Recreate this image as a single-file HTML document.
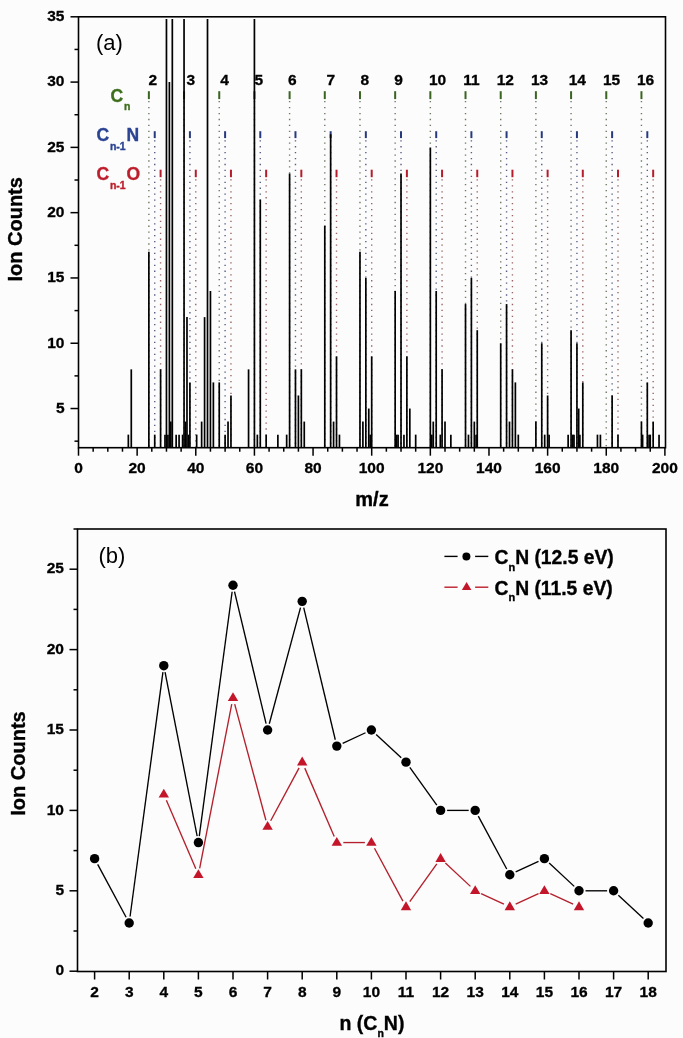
<!DOCTYPE html>
<html><head><meta charset="utf-8"><style>
html,body{margin:0;padding:0;background:#fcfcfc;}
svg{display:block;will-change:transform;}
text{font-family:"Liberation Sans", sans-serif;}
.tk{font-size:15.5px;font-weight:bold;fill:#000;stroke:#000;stroke-width:0.3px;}
.ttl{font-size:20px;font-weight:bold;fill:#000;stroke:#000;stroke-width:0.35px;}
.lab{font-size:22px;fill:#000;}
.ser{font-size:17.5px;font-weight:bold;stroke-width:0.35px;}
.sub{font-size:11px;}
.ssub{font-size:10.5px;}
.leg{font-size:19.3px;}
</style></head><body>
<svg width="683" height="1038" viewBox="0 0 683 1038">
<rect width="683" height="1038" fill="#fcfcfc"/>
<line x1="148.87" y1="91.2" x2="148.87" y2="99.10000000000001" stroke="#3b6321" stroke-width="2.0"/>
<line x1="148.87" y1="101.05" x2="148.87" y2="446.7" stroke="#6c7864" stroke-width="1.4" stroke-dasharray="1.3 4.63"/>
<line x1="154.73" y1="131.2" x2="154.73" y2="138.1" stroke="#283a7e" stroke-width="2.0"/>
<line x1="154.73" y1="140.15" x2="154.73" y2="446.7" stroke="#585e84" stroke-width="1.4" stroke-dasharray="1.3 4.63"/>
<line x1="160.60" y1="169.7" x2="160.60" y2="177.2" stroke="#b41d2c" stroke-width="2.0"/>
<line x1="160.60" y1="179.3" x2="160.60" y2="446.7" stroke="#9a6466" stroke-width="1.4" stroke-dasharray="1.3 4.63"/>
<line x1="184.05" y1="91.2" x2="184.05" y2="99.10000000000001" stroke="#3b6321" stroke-width="2.0"/>
<line x1="184.05" y1="101.05" x2="184.05" y2="446.7" stroke="#6c7864" stroke-width="1.4" stroke-dasharray="1.3 4.63"/>
<line x1="189.92" y1="131.2" x2="189.92" y2="138.1" stroke="#283a7e" stroke-width="2.0"/>
<line x1="189.92" y1="140.15" x2="189.92" y2="446.7" stroke="#585e84" stroke-width="1.4" stroke-dasharray="1.3 4.63"/>
<line x1="195.78" y1="169.7" x2="195.78" y2="177.2" stroke="#b41d2c" stroke-width="2.0"/>
<line x1="195.78" y1="179.3" x2="195.78" y2="446.7" stroke="#9a6466" stroke-width="1.4" stroke-dasharray="1.3 4.63"/>
<line x1="219.24" y1="91.2" x2="219.24" y2="99.10000000000001" stroke="#3b6321" stroke-width="2.0"/>
<line x1="219.24" y1="101.05" x2="219.24" y2="446.7" stroke="#6c7864" stroke-width="1.4" stroke-dasharray="1.3 4.63"/>
<line x1="225.10" y1="131.2" x2="225.10" y2="138.1" stroke="#283a7e" stroke-width="2.0"/>
<line x1="225.10" y1="140.15" x2="225.10" y2="446.7" stroke="#585e84" stroke-width="1.4" stroke-dasharray="1.3 4.63"/>
<line x1="230.96" y1="169.7" x2="230.96" y2="177.2" stroke="#b41d2c" stroke-width="2.0"/>
<line x1="230.96" y1="179.3" x2="230.96" y2="446.7" stroke="#9a6466" stroke-width="1.4" stroke-dasharray="1.3 4.63"/>
<line x1="254.42" y1="91.2" x2="254.42" y2="99.10000000000001" stroke="#3b6321" stroke-width="2.0"/>
<line x1="254.42" y1="101.05" x2="254.42" y2="446.7" stroke="#6c7864" stroke-width="1.4" stroke-dasharray="1.3 4.63"/>
<line x1="260.28" y1="131.2" x2="260.28" y2="138.1" stroke="#283a7e" stroke-width="2.0"/>
<line x1="260.28" y1="140.15" x2="260.28" y2="446.7" stroke="#585e84" stroke-width="1.4" stroke-dasharray="1.3 4.63"/>
<line x1="266.15" y1="169.7" x2="266.15" y2="177.2" stroke="#b41d2c" stroke-width="2.0"/>
<line x1="266.15" y1="179.3" x2="266.15" y2="446.7" stroke="#9a6466" stroke-width="1.4" stroke-dasharray="1.3 4.63"/>
<line x1="289.60" y1="91.2" x2="289.60" y2="99.10000000000001" stroke="#3b6321" stroke-width="2.0"/>
<line x1="289.60" y1="101.05" x2="289.60" y2="446.7" stroke="#6c7864" stroke-width="1.4" stroke-dasharray="1.3 4.63"/>
<line x1="295.47" y1="131.2" x2="295.47" y2="138.1" stroke="#283a7e" stroke-width="2.0"/>
<line x1="295.47" y1="140.15" x2="295.47" y2="446.7" stroke="#585e84" stroke-width="1.4" stroke-dasharray="1.3 4.63"/>
<line x1="301.33" y1="169.7" x2="301.33" y2="177.2" stroke="#b41d2c" stroke-width="2.0"/>
<line x1="301.33" y1="179.3" x2="301.33" y2="446.7" stroke="#9a6466" stroke-width="1.4" stroke-dasharray="1.3 4.63"/>
<line x1="324.79" y1="91.2" x2="324.79" y2="99.10000000000001" stroke="#3b6321" stroke-width="2.0"/>
<line x1="324.79" y1="101.05" x2="324.79" y2="446.7" stroke="#6c7864" stroke-width="1.4" stroke-dasharray="1.3 4.63"/>
<line x1="330.65" y1="131.2" x2="330.65" y2="138.1" stroke="#283a7e" stroke-width="2.0"/>
<line x1="330.65" y1="140.15" x2="330.65" y2="446.7" stroke="#585e84" stroke-width="1.4" stroke-dasharray="1.3 4.63"/>
<line x1="336.52" y1="169.7" x2="336.52" y2="177.2" stroke="#b41d2c" stroke-width="2.0"/>
<line x1="336.52" y1="179.3" x2="336.52" y2="446.7" stroke="#9a6466" stroke-width="1.4" stroke-dasharray="1.3 4.63"/>
<line x1="359.97" y1="91.2" x2="359.97" y2="99.10000000000001" stroke="#3b6321" stroke-width="2.0"/>
<line x1="359.97" y1="101.05" x2="359.97" y2="446.7" stroke="#6c7864" stroke-width="1.4" stroke-dasharray="1.3 4.63"/>
<line x1="365.84" y1="131.2" x2="365.84" y2="138.1" stroke="#283a7e" stroke-width="2.0"/>
<line x1="365.84" y1="140.15" x2="365.84" y2="446.7" stroke="#585e84" stroke-width="1.4" stroke-dasharray="1.3 4.63"/>
<line x1="371.70" y1="169.7" x2="371.70" y2="177.2" stroke="#b41d2c" stroke-width="2.0"/>
<line x1="371.70" y1="179.3" x2="371.70" y2="446.7" stroke="#9a6466" stroke-width="1.4" stroke-dasharray="1.3 4.63"/>
<line x1="395.16" y1="91.2" x2="395.16" y2="99.10000000000001" stroke="#3b6321" stroke-width="2.0"/>
<line x1="395.16" y1="101.05" x2="395.16" y2="446.7" stroke="#6c7864" stroke-width="1.4" stroke-dasharray="1.3 4.63"/>
<line x1="401.02" y1="131.2" x2="401.02" y2="138.1" stroke="#283a7e" stroke-width="2.0"/>
<line x1="401.02" y1="140.15" x2="401.02" y2="446.7" stroke="#585e84" stroke-width="1.4" stroke-dasharray="1.3 4.63"/>
<line x1="406.88" y1="169.7" x2="406.88" y2="177.2" stroke="#b41d2c" stroke-width="2.0"/>
<line x1="406.88" y1="179.3" x2="406.88" y2="446.7" stroke="#9a6466" stroke-width="1.4" stroke-dasharray="1.3 4.63"/>
<line x1="430.34" y1="91.2" x2="430.34" y2="99.10000000000001" stroke="#3b6321" stroke-width="2.0"/>
<line x1="430.34" y1="101.05" x2="430.34" y2="446.7" stroke="#6c7864" stroke-width="1.4" stroke-dasharray="1.3 4.63"/>
<line x1="436.20" y1="131.2" x2="436.20" y2="138.1" stroke="#283a7e" stroke-width="2.0"/>
<line x1="436.20" y1="140.15" x2="436.20" y2="446.7" stroke="#585e84" stroke-width="1.4" stroke-dasharray="1.3 4.63"/>
<line x1="442.07" y1="169.7" x2="442.07" y2="177.2" stroke="#b41d2c" stroke-width="2.0"/>
<line x1="442.07" y1="179.3" x2="442.07" y2="446.7" stroke="#9a6466" stroke-width="1.4" stroke-dasharray="1.3 4.63"/>
<line x1="465.52" y1="91.2" x2="465.52" y2="99.10000000000001" stroke="#3b6321" stroke-width="2.0"/>
<line x1="465.52" y1="101.05" x2="465.52" y2="446.7" stroke="#6c7864" stroke-width="1.4" stroke-dasharray="1.3 4.63"/>
<line x1="471.39" y1="131.2" x2="471.39" y2="138.1" stroke="#283a7e" stroke-width="2.0"/>
<line x1="471.39" y1="140.15" x2="471.39" y2="446.7" stroke="#585e84" stroke-width="1.4" stroke-dasharray="1.3 4.63"/>
<line x1="477.25" y1="169.7" x2="477.25" y2="177.2" stroke="#b41d2c" stroke-width="2.0"/>
<line x1="477.25" y1="179.3" x2="477.25" y2="446.7" stroke="#9a6466" stroke-width="1.4" stroke-dasharray="1.3 4.63"/>
<line x1="500.71" y1="91.2" x2="500.71" y2="99.10000000000001" stroke="#3b6321" stroke-width="2.0"/>
<line x1="500.71" y1="101.05" x2="500.71" y2="446.7" stroke="#6c7864" stroke-width="1.4" stroke-dasharray="1.3 4.63"/>
<line x1="506.57" y1="131.2" x2="506.57" y2="138.1" stroke="#283a7e" stroke-width="2.0"/>
<line x1="506.57" y1="140.15" x2="506.57" y2="446.7" stroke="#585e84" stroke-width="1.4" stroke-dasharray="1.3 4.63"/>
<line x1="512.44" y1="169.7" x2="512.44" y2="177.2" stroke="#b41d2c" stroke-width="2.0"/>
<line x1="512.44" y1="179.3" x2="512.44" y2="446.7" stroke="#9a6466" stroke-width="1.4" stroke-dasharray="1.3 4.63"/>
<line x1="535.89" y1="91.2" x2="535.89" y2="99.10000000000001" stroke="#3b6321" stroke-width="2.0"/>
<line x1="535.89" y1="101.05" x2="535.89" y2="446.7" stroke="#6c7864" stroke-width="1.4" stroke-dasharray="1.3 4.63"/>
<line x1="541.76" y1="131.2" x2="541.76" y2="138.1" stroke="#283a7e" stroke-width="2.0"/>
<line x1="541.76" y1="140.15" x2="541.76" y2="446.7" stroke="#585e84" stroke-width="1.4" stroke-dasharray="1.3 4.63"/>
<line x1="547.62" y1="169.7" x2="547.62" y2="177.2" stroke="#b41d2c" stroke-width="2.0"/>
<line x1="547.62" y1="179.3" x2="547.62" y2="446.7" stroke="#9a6466" stroke-width="1.4" stroke-dasharray="1.3 4.63"/>
<line x1="571.08" y1="91.2" x2="571.08" y2="99.10000000000001" stroke="#3b6321" stroke-width="2.0"/>
<line x1="571.08" y1="101.05" x2="571.08" y2="446.7" stroke="#6c7864" stroke-width="1.4" stroke-dasharray="1.3 4.63"/>
<line x1="576.94" y1="131.2" x2="576.94" y2="138.1" stroke="#283a7e" stroke-width="2.0"/>
<line x1="576.94" y1="140.15" x2="576.94" y2="446.7" stroke="#585e84" stroke-width="1.4" stroke-dasharray="1.3 4.63"/>
<line x1="582.80" y1="169.7" x2="582.80" y2="177.2" stroke="#b41d2c" stroke-width="2.0"/>
<line x1="582.80" y1="179.3" x2="582.80" y2="446.7" stroke="#9a6466" stroke-width="1.4" stroke-dasharray="1.3 4.63"/>
<line x1="606.26" y1="91.2" x2="606.26" y2="99.10000000000001" stroke="#3b6321" stroke-width="2.0"/>
<line x1="606.26" y1="101.05" x2="606.26" y2="446.7" stroke="#6c7864" stroke-width="1.4" stroke-dasharray="1.3 4.63"/>
<line x1="612.12" y1="131.2" x2="612.12" y2="138.1" stroke="#283a7e" stroke-width="2.0"/>
<line x1="612.12" y1="140.15" x2="612.12" y2="446.7" stroke="#585e84" stroke-width="1.4" stroke-dasharray="1.3 4.63"/>
<line x1="617.99" y1="169.7" x2="617.99" y2="177.2" stroke="#b41d2c" stroke-width="2.0"/>
<line x1="617.99" y1="179.3" x2="617.99" y2="446.7" stroke="#9a6466" stroke-width="1.4" stroke-dasharray="1.3 4.63"/>
<line x1="641.44" y1="91.2" x2="641.44" y2="99.10000000000001" stroke="#3b6321" stroke-width="2.0"/>
<line x1="641.44" y1="101.05" x2="641.44" y2="446.7" stroke="#6c7864" stroke-width="1.4" stroke-dasharray="1.3 4.63"/>
<line x1="647.31" y1="131.2" x2="647.31" y2="138.1" stroke="#283a7e" stroke-width="2.0"/>
<line x1="647.31" y1="140.15" x2="647.31" y2="446.7" stroke="#585e84" stroke-width="1.4" stroke-dasharray="1.3 4.63"/>
<line x1="653.17" y1="169.7" x2="653.17" y2="177.2" stroke="#b41d2c" stroke-width="2.0"/>
<line x1="653.17" y1="179.3" x2="653.17" y2="446.7" stroke="#9a6466" stroke-width="1.4" stroke-dasharray="1.3 4.63"/>
<line x1="128.34" y1="434.64" x2="128.34" y2="447.7" stroke="#000" stroke-width="1.7"/>
<line x1="131.28" y1="369.35" x2="131.28" y2="447.7" stroke="#000" stroke-width="1.7"/>
<line x1="148.87" y1="251.84" x2="148.87" y2="447.7" stroke="#000" stroke-width="1.7"/>
<line x1="154.73" y1="434.64" x2="154.73" y2="447.7" stroke="#000" stroke-width="1.7"/>
<line x1="160.60" y1="369.35" x2="160.60" y2="447.7" stroke="#000" stroke-width="1.7"/>
<line x1="166.46" y1="19.00" x2="166.46" y2="447.7" stroke="#000" stroke-width="1.7"/>
<line x1="169.39" y1="82.09" x2="169.39" y2="447.7" stroke="#000" stroke-width="1.7"/>
<line x1="172.32" y1="19.00" x2="172.32" y2="447.7" stroke="#000" stroke-width="1.7"/>
<line x1="164.99" y1="434.64" x2="164.99" y2="447.7" stroke="#000" stroke-width="1.7"/>
<line x1="167.93" y1="434.64" x2="167.93" y2="447.7" stroke="#000" stroke-width="1.7"/>
<line x1="170.86" y1="421.58" x2="170.86" y2="447.7" stroke="#000" stroke-width="1.7"/>
<line x1="176.14" y1="434.64" x2="176.14" y2="447.7" stroke="#000" stroke-width="1.7"/>
<line x1="179.07" y1="434.64" x2="179.07" y2="447.7" stroke="#000" stroke-width="1.7"/>
<line x1="184.05" y1="19.00" x2="184.05" y2="447.7" stroke="#000" stroke-width="1.7"/>
<line x1="186.98" y1="317.12" x2="186.98" y2="447.7" stroke="#000" stroke-width="1.7"/>
<line x1="189.92" y1="382.41" x2="189.92" y2="447.7" stroke="#000" stroke-width="1.7"/>
<line x1="182.59" y1="434.64" x2="182.59" y2="447.7" stroke="#000" stroke-width="1.7"/>
<line x1="185.52" y1="421.58" x2="185.52" y2="447.7" stroke="#000" stroke-width="1.7"/>
<line x1="188.45" y1="434.64" x2="188.45" y2="447.7" stroke="#000" stroke-width="1.7"/>
<line x1="196.66" y1="434.64" x2="196.66" y2="447.7" stroke="#000" stroke-width="1.7"/>
<line x1="201.64" y1="421.58" x2="201.64" y2="447.7" stroke="#000" stroke-width="1.7"/>
<line x1="204.58" y1="317.12" x2="204.58" y2="447.7" stroke="#000" stroke-width="1.7"/>
<line x1="207.51" y1="19.00" x2="207.51" y2="447.7" stroke="#000" stroke-width="1.7"/>
<line x1="210.44" y1="291.01" x2="210.44" y2="447.7" stroke="#000" stroke-width="1.7"/>
<line x1="213.37" y1="382.41" x2="213.37" y2="447.7" stroke="#000" stroke-width="1.7"/>
<line x1="219.24" y1="382.41" x2="219.24" y2="447.7" stroke="#000" stroke-width="1.7"/>
<line x1="225.10" y1="434.64" x2="225.10" y2="447.7" stroke="#000" stroke-width="1.7"/>
<line x1="228.03" y1="421.58" x2="228.03" y2="447.7" stroke="#000" stroke-width="1.7"/>
<line x1="230.96" y1="395.47" x2="230.96" y2="447.7" stroke="#000" stroke-width="1.7"/>
<line x1="248.56" y1="369.35" x2="248.56" y2="447.7" stroke="#000" stroke-width="1.7"/>
<line x1="254.42" y1="19.00" x2="254.42" y2="447.7" stroke="#000" stroke-width="1.7"/>
<line x1="257.35" y1="434.64" x2="257.35" y2="447.7" stroke="#000" stroke-width="1.7"/>
<line x1="260.28" y1="199.61" x2="260.28" y2="447.7" stroke="#000" stroke-width="1.7"/>
<line x1="266.15" y1="434.64" x2="266.15" y2="447.7" stroke="#000" stroke-width="1.7"/>
<line x1="277.88" y1="434.64" x2="277.88" y2="447.7" stroke="#000" stroke-width="1.7"/>
<line x1="286.67" y1="434.64" x2="286.67" y2="447.7" stroke="#000" stroke-width="1.7"/>
<line x1="289.60" y1="173.49" x2="289.60" y2="447.7" stroke="#000" stroke-width="1.7"/>
<line x1="295.47" y1="369.35" x2="295.47" y2="447.7" stroke="#000" stroke-width="1.7"/>
<line x1="298.40" y1="395.47" x2="298.40" y2="447.7" stroke="#000" stroke-width="1.7"/>
<line x1="301.33" y1="369.35" x2="301.33" y2="447.7" stroke="#000" stroke-width="1.7"/>
<line x1="304.26" y1="421.58" x2="304.26" y2="447.7" stroke="#000" stroke-width="1.7"/>
<line x1="324.79" y1="225.72" x2="324.79" y2="447.7" stroke="#000" stroke-width="1.7"/>
<line x1="330.65" y1="134.32" x2="330.65" y2="447.7" stroke="#000" stroke-width="1.7"/>
<line x1="333.58" y1="421.58" x2="333.58" y2="447.7" stroke="#000" stroke-width="1.7"/>
<line x1="336.52" y1="356.30" x2="336.52" y2="447.7" stroke="#000" stroke-width="1.7"/>
<line x1="339.45" y1="434.64" x2="339.45" y2="447.7" stroke="#000" stroke-width="1.7"/>
<line x1="359.97" y1="251.84" x2="359.97" y2="447.7" stroke="#000" stroke-width="1.7"/>
<line x1="362.90" y1="421.58" x2="362.90" y2="447.7" stroke="#000" stroke-width="1.7"/>
<line x1="365.84" y1="277.95" x2="365.84" y2="447.7" stroke="#000" stroke-width="1.7"/>
<line x1="368.77" y1="408.53" x2="368.77" y2="447.7" stroke="#000" stroke-width="1.7"/>
<line x1="370.23" y1="434.64" x2="370.23" y2="447.7" stroke="#000" stroke-width="1.7"/>
<line x1="371.70" y1="356.30" x2="371.70" y2="447.7" stroke="#000" stroke-width="1.7"/>
<line x1="395.16" y1="291.01" x2="395.16" y2="447.7" stroke="#000" stroke-width="1.7"/>
<line x1="396.62" y1="434.64" x2="396.62" y2="447.7" stroke="#000" stroke-width="1.7"/>
<line x1="398.09" y1="434.64" x2="398.09" y2="447.7" stroke="#000" stroke-width="1.7"/>
<line x1="401.02" y1="173.49" x2="401.02" y2="447.7" stroke="#000" stroke-width="1.7"/>
<line x1="403.95" y1="434.64" x2="403.95" y2="447.7" stroke="#000" stroke-width="1.7"/>
<line x1="406.88" y1="356.30" x2="406.88" y2="447.7" stroke="#000" stroke-width="1.7"/>
<line x1="409.82" y1="408.53" x2="409.82" y2="447.7" stroke="#000" stroke-width="1.7"/>
<line x1="415.68" y1="434.64" x2="415.68" y2="447.7" stroke="#000" stroke-width="1.7"/>
<line x1="430.34" y1="147.38" x2="430.34" y2="447.7" stroke="#000" stroke-width="1.7"/>
<line x1="431.81" y1="434.64" x2="431.81" y2="447.7" stroke="#000" stroke-width="1.7"/>
<line x1="433.27" y1="421.58" x2="433.27" y2="447.7" stroke="#000" stroke-width="1.7"/>
<line x1="436.20" y1="291.01" x2="436.20" y2="447.7" stroke="#000" stroke-width="1.7"/>
<line x1="440.31" y1="434.64" x2="440.31" y2="447.7" stroke="#000" stroke-width="1.7"/>
<line x1="442.07" y1="369.35" x2="442.07" y2="447.7" stroke="#000" stroke-width="1.7"/>
<line x1="445.00" y1="421.58" x2="445.00" y2="447.7" stroke="#000" stroke-width="1.7"/>
<line x1="450.86" y1="434.64" x2="450.86" y2="447.7" stroke="#000" stroke-width="1.7"/>
<line x1="465.52" y1="304.07" x2="465.52" y2="447.7" stroke="#000" stroke-width="1.7"/>
<line x1="468.46" y1="434.64" x2="468.46" y2="447.7" stroke="#000" stroke-width="1.7"/>
<line x1="471.39" y1="277.95" x2="471.39" y2="447.7" stroke="#000" stroke-width="1.7"/>
<line x1="474.32" y1="421.58" x2="474.32" y2="447.7" stroke="#000" stroke-width="1.7"/>
<line x1="476.08" y1="434.64" x2="476.08" y2="447.7" stroke="#000" stroke-width="1.7"/>
<line x1="477.25" y1="330.18" x2="477.25" y2="447.7" stroke="#000" stroke-width="1.7"/>
<line x1="500.71" y1="343.24" x2="500.71" y2="447.7" stroke="#000" stroke-width="1.7"/>
<line x1="506.57" y1="304.07" x2="506.57" y2="447.7" stroke="#000" stroke-width="1.7"/>
<line x1="509.50" y1="421.58" x2="509.50" y2="447.7" stroke="#000" stroke-width="1.7"/>
<line x1="512.44" y1="369.35" x2="512.44" y2="447.7" stroke="#000" stroke-width="1.7"/>
<line x1="515.37" y1="382.41" x2="515.37" y2="447.7" stroke="#000" stroke-width="1.7"/>
<line x1="518.30" y1="434.64" x2="518.30" y2="447.7" stroke="#000" stroke-width="1.7"/>
<line x1="535.89" y1="421.58" x2="535.89" y2="447.7" stroke="#000" stroke-width="1.7"/>
<line x1="541.76" y1="343.24" x2="541.76" y2="447.7" stroke="#000" stroke-width="1.7"/>
<line x1="544.69" y1="434.64" x2="544.69" y2="447.7" stroke="#000" stroke-width="1.7"/>
<line x1="547.62" y1="395.47" x2="547.62" y2="447.7" stroke="#000" stroke-width="1.7"/>
<line x1="549.09" y1="434.64" x2="549.09" y2="447.7" stroke="#000" stroke-width="1.7"/>
<line x1="568.14" y1="434.64" x2="568.14" y2="447.7" stroke="#000" stroke-width="1.7"/>
<line x1="571.08" y1="330.18" x2="571.08" y2="447.7" stroke="#000" stroke-width="1.7"/>
<line x1="572.84" y1="434.64" x2="572.84" y2="447.7" stroke="#000" stroke-width="1.7"/>
<line x1="574.01" y1="434.64" x2="574.01" y2="447.7" stroke="#000" stroke-width="1.7"/>
<line x1="576.94" y1="343.24" x2="576.94" y2="447.7" stroke="#000" stroke-width="1.7"/>
<line x1="578.70" y1="408.53" x2="578.70" y2="447.7" stroke="#000" stroke-width="1.7"/>
<line x1="579.87" y1="434.64" x2="579.87" y2="447.7" stroke="#000" stroke-width="1.7"/>
<line x1="582.80" y1="382.41" x2="582.80" y2="447.7" stroke="#000" stroke-width="1.7"/>
<line x1="597.46" y1="434.64" x2="597.46" y2="447.7" stroke="#000" stroke-width="1.7"/>
<line x1="600.40" y1="434.64" x2="600.40" y2="447.7" stroke="#000" stroke-width="1.7"/>
<line x1="612.12" y1="395.47" x2="612.12" y2="447.7" stroke="#000" stroke-width="1.7"/>
<line x1="617.99" y1="434.64" x2="617.99" y2="447.7" stroke="#000" stroke-width="1.7"/>
<line x1="641.44" y1="421.58" x2="641.44" y2="447.7" stroke="#000" stroke-width="1.7"/>
<line x1="642.62" y1="434.64" x2="642.62" y2="447.7" stroke="#000" stroke-width="1.7"/>
<line x1="647.31" y1="382.41" x2="647.31" y2="447.7" stroke="#000" stroke-width="1.7"/>
<line x1="649.07" y1="434.64" x2="649.07" y2="447.7" stroke="#000" stroke-width="1.7"/>
<line x1="650.24" y1="434.64" x2="650.24" y2="447.7" stroke="#000" stroke-width="1.7"/>
<line x1="653.17" y1="421.58" x2="653.17" y2="447.7" stroke="#000" stroke-width="1.7"/>
<line x1="659.04" y1="434.64" x2="659.04" y2="447.7" stroke="#000" stroke-width="1.7"/>
<rect x="78.5" y="16.8" width="587.0" height="430.9" fill="none" stroke="#000" stroke-width="1.6"/>
<line x1="78.50" y1="447.7" x2="78.50" y2="455.7" stroke="#000" stroke-width="1.5"/>
<text x="78.50" y="473" class="tk" text-anchor="middle">0</text>
<line x1="93.16" y1="447.7" x2="93.16" y2="451.7" stroke="#000" stroke-width="1.5"/>
<line x1="107.82" y1="447.7" x2="107.82" y2="451.7" stroke="#000" stroke-width="1.5"/>
<line x1="122.48" y1="447.7" x2="122.48" y2="451.7" stroke="#000" stroke-width="1.5"/>
<line x1="137.14" y1="447.7" x2="137.14" y2="455.7" stroke="#000" stroke-width="1.5"/>
<text x="137.14" y="473" class="tk" text-anchor="middle">20</text>
<line x1="151.80" y1="447.7" x2="151.80" y2="451.7" stroke="#000" stroke-width="1.5"/>
<line x1="166.46" y1="447.7" x2="166.46" y2="451.7" stroke="#000" stroke-width="1.5"/>
<line x1="181.12" y1="447.7" x2="181.12" y2="451.7" stroke="#000" stroke-width="1.5"/>
<line x1="195.78" y1="447.7" x2="195.78" y2="455.7" stroke="#000" stroke-width="1.5"/>
<text x="195.78" y="473" class="tk" text-anchor="middle">40</text>
<line x1="210.44" y1="447.7" x2="210.44" y2="451.7" stroke="#000" stroke-width="1.5"/>
<line x1="225.10" y1="447.7" x2="225.10" y2="451.7" stroke="#000" stroke-width="1.5"/>
<line x1="239.76" y1="447.7" x2="239.76" y2="451.7" stroke="#000" stroke-width="1.5"/>
<line x1="254.42" y1="447.7" x2="254.42" y2="455.7" stroke="#000" stroke-width="1.5"/>
<text x="254.42" y="473" class="tk" text-anchor="middle">60</text>
<line x1="269.08" y1="447.7" x2="269.08" y2="451.7" stroke="#000" stroke-width="1.5"/>
<line x1="283.74" y1="447.7" x2="283.74" y2="451.7" stroke="#000" stroke-width="1.5"/>
<line x1="298.40" y1="447.7" x2="298.40" y2="451.7" stroke="#000" stroke-width="1.5"/>
<line x1="313.06" y1="447.7" x2="313.06" y2="455.7" stroke="#000" stroke-width="1.5"/>
<text x="313.06" y="473" class="tk" text-anchor="middle">80</text>
<line x1="327.72" y1="447.7" x2="327.72" y2="451.7" stroke="#000" stroke-width="1.5"/>
<line x1="342.38" y1="447.7" x2="342.38" y2="451.7" stroke="#000" stroke-width="1.5"/>
<line x1="357.04" y1="447.7" x2="357.04" y2="451.7" stroke="#000" stroke-width="1.5"/>
<line x1="371.70" y1="447.7" x2="371.70" y2="455.7" stroke="#000" stroke-width="1.5"/>
<text x="371.70" y="473" class="tk" text-anchor="middle">100</text>
<line x1="386.36" y1="447.7" x2="386.36" y2="451.7" stroke="#000" stroke-width="1.5"/>
<line x1="401.02" y1="447.7" x2="401.02" y2="451.7" stroke="#000" stroke-width="1.5"/>
<line x1="415.68" y1="447.7" x2="415.68" y2="451.7" stroke="#000" stroke-width="1.5"/>
<line x1="430.34" y1="447.7" x2="430.34" y2="455.7" stroke="#000" stroke-width="1.5"/>
<text x="430.34" y="473" class="tk" text-anchor="middle">120</text>
<line x1="445.00" y1="447.7" x2="445.00" y2="451.7" stroke="#000" stroke-width="1.5"/>
<line x1="459.66" y1="447.7" x2="459.66" y2="451.7" stroke="#000" stroke-width="1.5"/>
<line x1="474.32" y1="447.7" x2="474.32" y2="451.7" stroke="#000" stroke-width="1.5"/>
<line x1="488.98" y1="447.7" x2="488.98" y2="455.7" stroke="#000" stroke-width="1.5"/>
<text x="488.98" y="473" class="tk" text-anchor="middle">140</text>
<line x1="503.64" y1="447.7" x2="503.64" y2="451.7" stroke="#000" stroke-width="1.5"/>
<line x1="518.30" y1="447.7" x2="518.30" y2="451.7" stroke="#000" stroke-width="1.5"/>
<line x1="532.96" y1="447.7" x2="532.96" y2="451.7" stroke="#000" stroke-width="1.5"/>
<line x1="547.62" y1="447.7" x2="547.62" y2="455.7" stroke="#000" stroke-width="1.5"/>
<text x="547.62" y="473" class="tk" text-anchor="middle">160</text>
<line x1="562.28" y1="447.7" x2="562.28" y2="451.7" stroke="#000" stroke-width="1.5"/>
<line x1="576.94" y1="447.7" x2="576.94" y2="451.7" stroke="#000" stroke-width="1.5"/>
<line x1="591.60" y1="447.7" x2="591.60" y2="451.7" stroke="#000" stroke-width="1.5"/>
<line x1="606.26" y1="447.7" x2="606.26" y2="455.7" stroke="#000" stroke-width="1.5"/>
<text x="606.26" y="473" class="tk" text-anchor="middle">180</text>
<line x1="620.92" y1="447.7" x2="620.92" y2="451.7" stroke="#000" stroke-width="1.5"/>
<line x1="635.58" y1="447.7" x2="635.58" y2="451.7" stroke="#000" stroke-width="1.5"/>
<line x1="650.24" y1="447.7" x2="650.24" y2="451.7" stroke="#000" stroke-width="1.5"/>
<line x1="664.90" y1="447.7" x2="664.90" y2="455.7" stroke="#000" stroke-width="1.5"/>
<text x="664.90" y="473" class="tk" text-anchor="middle">200</text>
<line x1="74.5" y1="441.17" x2="78.5" y2="441.17" stroke="#000" stroke-width="1.5"/>
<line x1="70.5" y1="408.53" x2="78.5" y2="408.53" stroke="#000" stroke-width="1.5"/>
<text x="64.5" y="412.83" class="tk" text-anchor="end">5</text>
<line x1="74.5" y1="375.88" x2="78.5" y2="375.88" stroke="#000" stroke-width="1.5"/>
<line x1="70.5" y1="343.24" x2="78.5" y2="343.24" stroke="#000" stroke-width="1.5"/>
<text x="64.5" y="347.54" class="tk" text-anchor="end">10</text>
<line x1="74.5" y1="310.60" x2="78.5" y2="310.60" stroke="#000" stroke-width="1.5"/>
<line x1="70.5" y1="277.95" x2="78.5" y2="277.95" stroke="#000" stroke-width="1.5"/>
<text x="64.5" y="282.25" class="tk" text-anchor="end">15</text>
<line x1="74.5" y1="245.31" x2="78.5" y2="245.31" stroke="#000" stroke-width="1.5"/>
<line x1="70.5" y1="212.66" x2="78.5" y2="212.66" stroke="#000" stroke-width="1.5"/>
<text x="64.5" y="216.96" class="tk" text-anchor="end">20</text>
<line x1="74.5" y1="180.02" x2="78.5" y2="180.02" stroke="#000" stroke-width="1.5"/>
<line x1="70.5" y1="147.38" x2="78.5" y2="147.38" stroke="#000" stroke-width="1.5"/>
<text x="64.5" y="151.68" class="tk" text-anchor="end">25</text>
<line x1="74.5" y1="114.73" x2="78.5" y2="114.73" stroke="#000" stroke-width="1.5"/>
<line x1="70.5" y1="82.09" x2="78.5" y2="82.09" stroke="#000" stroke-width="1.5"/>
<text x="64.5" y="86.39" class="tk" text-anchor="end">30</text>
<line x1="74.5" y1="49.44" x2="78.5" y2="49.44" stroke="#000" stroke-width="1.5"/>
<line x1="70.5" y1="16.80" x2="78.5" y2="16.80" stroke="#000" stroke-width="1.5"/>
<text x="64.5" y="21.10" class="tk" text-anchor="end">35</text>
<text x="0" y="0" class="ttl" transform="translate(21.8,229.3) rotate(-90)" text-anchor="middle">Ion Counts</text>
<text x="372" y="506" class="ttl" text-anchor="middle">m/z</text>
<text x="96" y="49.5" class="lab">(a)</text>
<text x="152.7" y="84.6" class="tk" text-anchor="middle">2</text>
<text x="190.8" y="84.6" class="tk" text-anchor="middle">3</text>
<text x="224.6" y="84.6" class="tk" text-anchor="middle">4</text>
<text x="258.9" y="84.6" class="tk" text-anchor="middle">5</text>
<text x="292.4" y="84.6" class="tk" text-anchor="middle">6</text>
<text x="330.9" y="84.6" class="tk" text-anchor="middle">7</text>
<text x="364.7" y="84.6" class="tk" text-anchor="middle">8</text>
<text x="398.5" y="84.6" class="tk" text-anchor="middle">9</text>
<text x="437.6" y="84.6" class="tk" text-anchor="middle">10</text>
<text x="471.4" y="84.6" class="tk" text-anchor="middle">11</text>
<text x="505.3" y="84.6" class="tk" text-anchor="middle">12</text>
<text x="539.6" y="84.6" class="tk" text-anchor="middle">13</text>
<text x="577.3" y="84.6" class="tk" text-anchor="middle">14</text>
<text x="611.5" y="84.6" class="tk" text-anchor="middle">15</text>
<text x="645.6" y="84.6" class="tk" text-anchor="middle">16</text>
<text x="110.5" y="101.5" class="ser" fill="#3d6e1c" stroke="#3d6e1c">C<tspan class="ssub" dx="0.8" dy="8.4">n</tspan></text>
<text x="96.5" y="140.9" class="ser" fill="#2b4393" stroke="#2b4393">C<tspan class="ssub" dx="0.8" dy="9">n-1</tspan><tspan dy="-9" dx="0.8">N</tspan></text>
<text x="96.5" y="179.8" class="ser" fill="#bd1e2c" stroke="#bd1e2c">C<tspan class="ssub" dx="0.8" dy="9">n-1</tspan><tspan dy="-9" dx="0.8">O</tspan></text>
<rect x="77.5" y="529.0" width="588.5" height="442.5" fill="none" stroke="#000" stroke-width="1.6"/>
<line x1="94.60" y1="971.5" x2="94.60" y2="979.5" stroke="#000" stroke-width="1.5"/>
<text x="94.60" y="997.3" class="tk" text-anchor="middle">2</text>
<line x1="129.20" y1="971.5" x2="129.20" y2="979.5" stroke="#000" stroke-width="1.5"/>
<text x="129.20" y="997.3" class="tk" text-anchor="middle">3</text>
<line x1="163.80" y1="971.5" x2="163.80" y2="979.5" stroke="#000" stroke-width="1.5"/>
<text x="163.80" y="997.3" class="tk" text-anchor="middle">4</text>
<line x1="198.40" y1="971.5" x2="198.40" y2="979.5" stroke="#000" stroke-width="1.5"/>
<text x="198.40" y="997.3" class="tk" text-anchor="middle">5</text>
<line x1="233.00" y1="971.5" x2="233.00" y2="979.5" stroke="#000" stroke-width="1.5"/>
<text x="233.00" y="997.3" class="tk" text-anchor="middle">6</text>
<line x1="267.60" y1="971.5" x2="267.60" y2="979.5" stroke="#000" stroke-width="1.5"/>
<text x="267.60" y="997.3" class="tk" text-anchor="middle">7</text>
<line x1="302.20" y1="971.5" x2="302.20" y2="979.5" stroke="#000" stroke-width="1.5"/>
<text x="302.20" y="997.3" class="tk" text-anchor="middle">8</text>
<line x1="336.80" y1="971.5" x2="336.80" y2="979.5" stroke="#000" stroke-width="1.5"/>
<text x="336.80" y="997.3" class="tk" text-anchor="middle">9</text>
<line x1="371.40" y1="971.5" x2="371.40" y2="979.5" stroke="#000" stroke-width="1.5"/>
<text x="371.40" y="997.3" class="tk" text-anchor="middle">10</text>
<line x1="406.00" y1="971.5" x2="406.00" y2="979.5" stroke="#000" stroke-width="1.5"/>
<text x="406.00" y="997.3" class="tk" text-anchor="middle">11</text>
<line x1="440.60" y1="971.5" x2="440.60" y2="979.5" stroke="#000" stroke-width="1.5"/>
<text x="440.60" y="997.3" class="tk" text-anchor="middle">12</text>
<line x1="475.20" y1="971.5" x2="475.20" y2="979.5" stroke="#000" stroke-width="1.5"/>
<text x="475.20" y="997.3" class="tk" text-anchor="middle">13</text>
<line x1="509.80" y1="971.5" x2="509.80" y2="979.5" stroke="#000" stroke-width="1.5"/>
<text x="509.80" y="997.3" class="tk" text-anchor="middle">14</text>
<line x1="544.40" y1="971.5" x2="544.40" y2="979.5" stroke="#000" stroke-width="1.5"/>
<text x="544.40" y="997.3" class="tk" text-anchor="middle">15</text>
<line x1="579.00" y1="971.5" x2="579.00" y2="979.5" stroke="#000" stroke-width="1.5"/>
<text x="579.00" y="997.3" class="tk" text-anchor="middle">16</text>
<line x1="613.60" y1="971.5" x2="613.60" y2="979.5" stroke="#000" stroke-width="1.5"/>
<text x="613.60" y="997.3" class="tk" text-anchor="middle">17</text>
<line x1="648.20" y1="971.5" x2="648.20" y2="979.5" stroke="#000" stroke-width="1.5"/>
<text x="648.20" y="997.3" class="tk" text-anchor="middle">18</text>
<line x1="69.5" y1="971.20" x2="77.5" y2="971.20" stroke="#000" stroke-width="1.5"/>
<text x="64" y="975.40" class="tk" text-anchor="end">0</text>
<line x1="73.5" y1="931.00" x2="77.5" y2="931.00" stroke="#000" stroke-width="1.5"/>
<line x1="69.5" y1="890.80" x2="77.5" y2="890.80" stroke="#000" stroke-width="1.5"/>
<text x="64" y="895.00" class="tk" text-anchor="end">5</text>
<line x1="73.5" y1="850.60" x2="77.5" y2="850.60" stroke="#000" stroke-width="1.5"/>
<line x1="69.5" y1="810.40" x2="77.5" y2="810.40" stroke="#000" stroke-width="1.5"/>
<text x="64" y="814.60" class="tk" text-anchor="end">10</text>
<line x1="73.5" y1="770.20" x2="77.5" y2="770.20" stroke="#000" stroke-width="1.5"/>
<line x1="69.5" y1="730.00" x2="77.5" y2="730.00" stroke="#000" stroke-width="1.5"/>
<text x="64" y="734.20" class="tk" text-anchor="end">15</text>
<line x1="73.5" y1="689.80" x2="77.5" y2="689.80" stroke="#000" stroke-width="1.5"/>
<line x1="69.5" y1="649.60" x2="77.5" y2="649.60" stroke="#000" stroke-width="1.5"/>
<text x="64" y="653.80" class="tk" text-anchor="end">20</text>
<line x1="73.5" y1="609.40" x2="77.5" y2="609.40" stroke="#000" stroke-width="1.5"/>
<line x1="69.5" y1="569.20" x2="77.5" y2="569.20" stroke="#000" stroke-width="1.5"/>
<text x="64" y="573.40" class="tk" text-anchor="end">25</text>
<line x1="73.5" y1="529.00" x2="77.5" y2="529.00" stroke="#000" stroke-width="1.5"/>
<text x="0" y="0" class="ttl" transform="translate(24.9,763.5) rotate(-90)" text-anchor="middle">Ion Counts</text>
<text x="339.5" y="1030.3" class="ttl" style="font-size:19.5px">n (C<tspan class="sub" dy="6.5" style="font-size:10.5px">n</tspan><tspan dy="-6.5">N)</tspan></text>
<text x="98.5" y="562.8" class="lab">(b)</text>
<line x1="97.68" y1="864.36" x2="126.12" y2="917.24" stroke="#000" stroke-width="1.35"/>
<line x1="130.07" y1="916.52" x2="162.93" y2="672.12" stroke="#000" stroke-width="1.35"/>
<line x1="165.05" y1="672.06" x2="197.15" y2="836.18" stroke="#000" stroke-width="1.35"/>
<line x1="199.27" y1="836.12" x2="232.13" y2="591.72" stroke="#000" stroke-width="1.35"/>
<line x1="234.51" y1="591.60" x2="266.09" y2="723.68" stroke="#000" stroke-width="1.35"/>
<line x1="269.29" y1="723.72" x2="300.51" y2="607.64" stroke="#000" stroke-width="1.35"/>
<line x1="303.71" y1="607.68" x2="335.29" y2="739.76" stroke="#000" stroke-width="1.35"/>
<line x1="342.69" y1="743.34" x2="365.51" y2="732.74" stroke="#000" stroke-width="1.35"/>
<line x1="376.16" y1="734.43" x2="401.24" y2="757.73" stroke="#000" stroke-width="1.35"/>
<line x1="409.79" y1="767.44" x2="436.81" y2="805.12" stroke="#000" stroke-width="1.35"/>
<line x1="447.10" y1="810.40" x2="468.70" y2="810.40" stroke="#000" stroke-width="1.35"/>
<line x1="478.28" y1="816.12" x2="506.72" y2="869.00" stroke="#000" stroke-width="1.35"/>
<line x1="515.69" y1="871.98" x2="538.51" y2="861.38" stroke="#000" stroke-width="1.35"/>
<line x1="549.16" y1="863.07" x2="574.24" y2="886.37" stroke="#000" stroke-width="1.35"/>
<line x1="585.50" y1="890.80" x2="607.10" y2="890.80" stroke="#000" stroke-width="1.35"/>
<line x1="618.36" y1="895.23" x2="643.44" y2="918.53" stroke="#000" stroke-width="1.35"/>
<line x1="166.37" y1="800.29" x2="195.83" y2="868.75" stroke="#b3202c" stroke-width="1.35"/>
<line x1="199.65" y1="868.34" x2="231.75" y2="704.22" stroke="#b3202c" stroke-width="1.35"/>
<line x1="234.69" y1="704.12" x2="265.91" y2="820.20" stroke="#b3202c" stroke-width="1.35"/>
<line x1="270.68" y1="820.76" x2="299.12" y2="767.88" stroke="#b3202c" stroke-width="1.35"/>
<line x1="304.77" y1="768.13" x2="334.23" y2="836.59" stroke="#b3202c" stroke-width="1.35"/>
<line x1="343.30" y1="842.56" x2="364.90" y2="842.56" stroke="#b3202c" stroke-width="1.35"/>
<line x1="374.48" y1="848.28" x2="402.92" y2="901.16" stroke="#b3202c" stroke-width="1.35"/>
<line x1="409.79" y1="901.60" x2="436.81" y2="863.92" stroke="#b3202c" stroke-width="1.35"/>
<line x1="445.36" y1="863.07" x2="470.44" y2="886.37" stroke="#b3202c" stroke-width="1.35"/>
<line x1="481.09" y1="893.54" x2="503.91" y2="904.14" stroke="#b3202c" stroke-width="1.35"/>
<line x1="515.69" y1="904.14" x2="538.51" y2="893.54" stroke="#b3202c" stroke-width="1.35"/>
<line x1="550.29" y1="893.54" x2="573.11" y2="904.14" stroke="#b3202c" stroke-width="1.35"/>
<circle cx="94.60" cy="858.64" r="4.7" fill="#000"/>
<circle cx="129.20" cy="922.96" r="4.7" fill="#000"/>
<circle cx="163.80" cy="665.68" r="4.7" fill="#000"/>
<circle cx="198.40" cy="842.56" r="4.7" fill="#000"/>
<circle cx="233.00" cy="585.28" r="4.7" fill="#000"/>
<circle cx="267.60" cy="730.00" r="4.7" fill="#000"/>
<circle cx="302.20" cy="601.36" r="4.7" fill="#000"/>
<circle cx="336.80" cy="746.08" r="4.7" fill="#000"/>
<circle cx="371.40" cy="730.00" r="4.7" fill="#000"/>
<circle cx="406.00" cy="762.16" r="4.7" fill="#000"/>
<circle cx="440.60" cy="810.40" r="4.7" fill="#000"/>
<circle cx="475.20" cy="810.40" r="4.7" fill="#000"/>
<circle cx="509.80" cy="874.72" r="4.7" fill="#000"/>
<circle cx="544.40" cy="858.64" r="4.7" fill="#000"/>
<circle cx="579.00" cy="890.80" r="4.7" fill="#000"/>
<circle cx="613.60" cy="890.80" r="4.7" fill="#000"/>
<circle cx="648.20" cy="922.96" r="4.7" fill="#000"/>
<polygon points="158.60,797.57 169.00,797.57 163.80,788.73" fill="#c4162a"/>
<polygon points="193.20,877.97 203.60,877.97 198.40,869.13" fill="#c4162a"/>
<polygon points="227.80,701.09 238.20,701.09 233.00,692.25" fill="#c4162a"/>
<polygon points="262.40,829.73 272.80,829.73 267.60,820.89" fill="#c4162a"/>
<polygon points="297.00,765.41 307.40,765.41 302.20,756.57" fill="#c4162a"/>
<polygon points="331.60,845.81 342.00,845.81 336.80,836.97" fill="#c4162a"/>
<polygon points="366.20,845.81 376.60,845.81 371.40,836.97" fill="#c4162a"/>
<polygon points="400.80,910.13 411.20,910.13 406.00,901.29" fill="#c4162a"/>
<polygon points="435.40,861.89 445.80,861.89 440.60,853.05" fill="#c4162a"/>
<polygon points="470.00,894.05 480.40,894.05 475.20,885.21" fill="#c4162a"/>
<polygon points="504.60,910.13 515.00,910.13 509.80,901.29" fill="#c4162a"/>
<polygon points="539.20,894.05 549.60,894.05 544.40,885.21" fill="#c4162a"/>
<polygon points="573.80,910.13 584.20,910.13 579.00,901.29" fill="#c4162a"/>
<line x1="444.4" y1="556.4" x2="457.6" y2="556.4" stroke="#000" stroke-width="1.4"/>
<circle cx="466.4" cy="556.4" r="4" fill="#000"/>
<line x1="475.1" y1="556.4" x2="488.3" y2="556.4" stroke="#000" stroke-width="1.4"/>
<text x="494.5" y="564.3" class="ttl leg">C<tspan class="sub" dy="6.3">n</tspan><tspan dy="-6.3">N (12.5 eV)</tspan></text>
<line x1="444.4" y1="587.2" x2="457.6" y2="587.2" stroke="#bd1e2c" stroke-width="1.4"/>
<polygon points="461.85,589.99 471.35,589.99 466.60,581.92" fill="#c4162a"/>
<line x1="475.1" y1="587.2" x2="488.3" y2="587.2" stroke="#bd1e2c" stroke-width="1.4"/>
<text x="494.5" y="595.1" class="ttl leg">C<tspan class="sub" dy="6.3">n</tspan><tspan dy="-6.3">N (11.5 eV)</tspan></text>
</svg>
</body></html>
